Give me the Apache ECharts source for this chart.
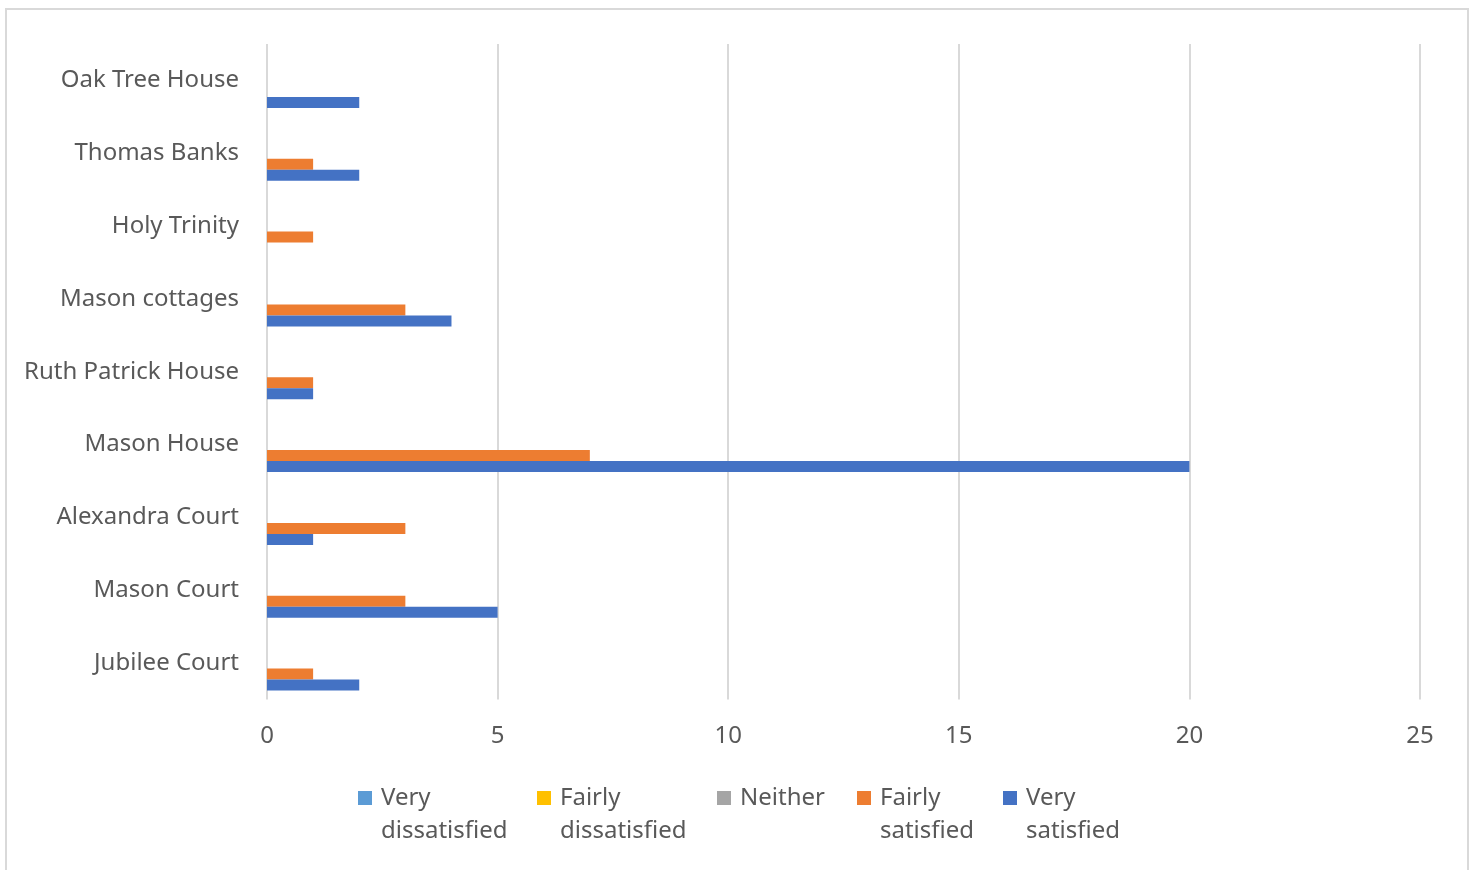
<!DOCTYPE html>
<html>
<head>
<meta charset="utf-8">
<script src="https://cdn.jsdelivr.net/npm/echarts@6/dist/echarts.min.js"></script>
<style>
html,body{margin:0;padding:0;background:#fff;}
#chart{position:absolute;left:0;top:0;width:1473px;height:870px;}
#frame{position:absolute;left:5px;top:8px;width:1464px;height:880px;border:2px solid #d9d9d9;pointer-events:none;box-sizing:border-box;}
</style>
</head>
<body>
<div id="chart"></div>
<div id="frame"></div>
<script>
// Categories listed bottom to top
const categories = ['Jubilee Court', 'Mason Court', 'Alexandra Court', 'Mason House', 'Ruth Patrick House', 'Mason cottages', 'Holy Trinity', 'Thomas Banks', 'Oak Tree House'];
const seriesNames = ['Very dissatisfied', 'Fairly dissatisfied', 'Neither', 'Fairly satisfied', 'Very satisfied'];
const legendLabels = ['Very\ndissatisfied', 'Fairly\ndissatisfied', 'Neither', 'Fairly\nsatisfied', 'Very\nsatisfied'];
const veryDissatisfied = [0, 0, 0, 0, 0, 0, 0, 0, 0];
const fairlyDissatisfied = [0, 0, 0, 0, 0, 0, 0, 0, 0];
const neither = [0, 0, 0, 0, 0, 0, 0, 0, 0];
const fairlySatisfied = [1, 3, 3, 7, 1, 3, 1, 1, 0];
const verySatisfied = [2, 5, 1, 20, 1, 4, 0, 2, 2];
const xTicks = [0, 5, 10, 15, 20, 25];

const seriesData = [veryDissatisfied, fairlyDissatisfied, neither, fairlySatisfied, verySatisfied];
const colors = ['#5B9BD5', '#FFC000', '#A5A5A5', '#ED7D31', '#4472C4'];
const FONT = 'Noto Sans';
const TXT = '#595959';
const legendLeft = [358, 537, 717, 857, 1003];
const LH = 33;
const iconCenter = 796;

const chart = echarts.init(document.getElementById('chart'), null, {renderer: 'canvas'});
const option = {
  animation: false,
  backgroundColor: 'transparent',
  grid: {left: 267, right: 53, top: 44, bottom: 170.5, containLabel: false},
  xAxis: {
    type: 'value',
    min: xTicks[0], max: xTicks[xTicks.length - 1], interval: 5,
    axisLine: {show: false},
    axisTick: {show: false},
    splitLine: {show: true, lineStyle: {color: '#d9d9d9', width: 2}},
    axisLabel: {color: TXT, fontFamily: FONT, fontSize: 24, margin: 25}
  },
  yAxis: {
    type: 'category',
    data: categories,
    axisLine: {show: false},
    axisTick: {show: false},
    axisLabel: {color: TXT, fontFamily: FONT, fontSize: 24, margin: 28}
  },
  legend: seriesNames.map((n, i) => {
    const twoLine = legendLabels[i].indexOf('\n') >= 0;
    const nLines = twoLine ? 3 : 1;
    return {
      data: [n],
      left: legendLeft[i],
      top: iconCenter - nLines * LH / 2,
      itemWidth: 14, itemHeight: 14,
      icon: 'rect',
      itemGap: 0,
      padding: 0,
      selectedMode: false,
      formatter: () => (twoLine ? '\n' + legendLabels[i] : legendLabels[i]),
      textStyle: {color: TXT, fontFamily: FONT, fontSize: 24, lineHeight: LH, padding: [4, 0, 0, 4]}
    };
  }),
  series: seriesNames.map((n, i) => ({
    name: n,
    type: 'bar',
    data: seriesData[i],
    barWidth: 11,
    barGap: '0%',
    itemStyle: {color: colors[i]}
  }))
};
chart.setOption(option);
</script>
</body>
</html>
